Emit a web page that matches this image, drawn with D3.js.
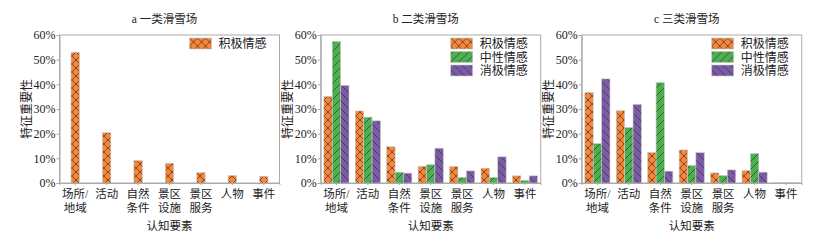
<!DOCTYPE html>
<html>
<head>
<meta charset="utf-8">
<script src="https://cdn.jsdelivr.net/npm/d3@7"></script>
<style>
  body { margin: 0; background: #fff; }
  text { font-family: "Liberation Serif", "Noto Sans CJK SC", serif; fill: #222; }
  .axis path, .axis line { stroke: #aaa; }
</style>
</head>
<body>
<div id="chart"></div>
<script>
// categories and values (feature importance, %)
var categories = ["场所/\n地域", "活动", "自然\n条件", "景区\n设施", "景区\n服务", "人物", "事件"];
var seriesNames = ["积极情感", "中性情感", "消极情感"];
var yTicks = [0, 10, 20, 30, 40, 50, 60];

var aPositive = [53.0, 20.4, 9.1, 8.0, 4.2, 3.0, 2.7];

var bPositive = [35.1, 29.2, 14.7, 6.8, 6.7, 6.0, 2.9];
var bNeutral  = [57.4, 26.7, 4.4, 7.4, 2.3, 2.3, 1.1];
var bNegative = [39.6, 25.2, 4.0, 14.1, 4.9, 10.6, 2.9];

var cPositive = [36.7, 29.3, 12.4, 13.4, 4.1, 5.0, 0.2];
var cNeutral  = [16.0, 22.5, 40.7, 7.1, 3.0, 11.9, 0.1];
var cNegative = [42.2, 31.9, 4.8, 12.3, 5.3, 4.4, 0.2];

var panels = [
  { title: "a 一类滑雪场", left: 59.5, series: [aPositive] },
  { title: "b 二类滑雪场", left: 320.7, series: [bPositive, bNeutral, bNegative] },
  { title: "c 三类滑雪场", left: 581.7, series: [cPositive, cNeutral, cNegative] }
];

var W = 826, H = 247;
var pw = 220;            // plot width
var plotTop = 35, plotBottom = 183;
var colors = ["#f5863b", "#4caf50", "#7a5ba6"];
var hatch = ["M0,0L8,8M8,0L0,8", "M-2,2L2,-2M0,8L8,0M6,10L10,6", "M0,0L8,8M-2,6L2,10M6,-2L10,2"];

var svg = d3.select("#chart").append("svg")
    .attr("width", W)
    .attr("height", H);

var defs = svg.append("defs");
colors.forEach(function(c, i) {
  var p = defs.append("pattern")
      .attr("id", "hatch" + i)
      .attr("patternUnits", "userSpaceOnUse")
      .attr("width", 8).attr("height", 8);
  p.append("rect").attr("width", 8).attr("height", 8).attr("fill", c);
  p.append("path").attr("d", hatch[i])
      .attr("stroke", "#3a2a20").attr("stroke-width", 0.7).attr("stroke-opacity", 0.9);
});

var yScale = d3.scaleLinear().domain([0, 60]).range([plotBottom, plotTop]);

panels.forEach(function(panel) {
  var x0 = panel.left, x1 = panel.left + pw;
  var g = svg.append("g");

  var xScale = d3.scaleBand()
      .domain(d3.range(categories.length))
      .range([x0, x1])
      .paddingInner(0.2)
      .paddingOuter(0.1);
  var bw = xScale.bandwidth() / 3;
  var n = panel.series.length;
  var sub = d3.scaleBand().domain(d3.range(n)).range([0, bw * n]);

  // frame
  g.append("rect")
      .attr("x", x0).attr("y", plotTop)
      .attr("width", pw).attr("height", plotBottom - plotTop)
      .attr("fill", "none").attr("stroke", "#aaa");

  // bars
  panel.series.forEach(function(vals, si) {
    g.selectAll(null)
      .data(vals)
      .enter().append("rect")
      .attr("x", function(d, i) { return xScale(i) + xScale.bandwidth() / 2 - bw * n / 2 + sub(si); })
      .attr("y", function(d) { return yScale(d); })
      .attr("width", bw)
      .attr("height", function(d) { return plotBottom - yScale(d); })
      .attr("fill", "url(#hatch" + si + ")")
      .attr("stroke", "#c8c8c8")
      .attr("stroke-width", 0.6);
  });

  // axes
  var yAxis = d3.axisLeft(yScale).tickValues(yTicks).tickSize(3).tickPadding(1)
      .tickFormat(function(d) { return d + "%"; });
  g.append("g").attr("class", "axis")
      .attr("transform", "translate(" + x0 + ",0)")
      .call(yAxis)
      .selectAll("text").attr("font-size", 12).attr("fill", "#222")
      .attr("font-family", "Liberation Serif");

  var xAxis = d3.axisBottom(xScale).tickSize(2).tickFormat("");
  g.append("g").attr("class", "axis")
      .attr("transform", "translate(0," + plotBottom + ")")
      .call(xAxis);
  g.selectAll(".axis .domain").attr("stroke", "#aaa");

  // category labels (two lines)
  categories.forEach(function(c, i) {
    var cx = xScale(i) + xScale.bandwidth() / 2;
    var t = g.append("text")
        .attr("text-anchor", "middle")
        .attr("font-size", 11.5)
        .attr("x", cx)
        .attr("y", 198);
    c.split("\n").forEach(function(line, li) {
      t.append("tspan")
        .attr("x", cx)
        .attr("dy", li === 0 ? 0 : 13.5)
        .text(line);
    });
  });

  // titles
  g.append("text")
      .attr("x", (x0 + x1) / 2 - 5).attr("y", 23)
      .attr("text-anchor", "middle").attr("font-size", 11.5)
      .text(panel.title);
  g.append("text")
      .attr("x", (x0 + x1) / 2).attr("y", 230)
      .attr("text-anchor", "middle").attr("font-size", 11.5)
      .text("认知要素");
  g.append("text")
      .attr("transform", "translate(" + (x0 - 33) + "," + ((plotTop + plotBottom) / 2) + ") rotate(-90)")
      .attr("text-anchor", "middle").attr("dy", "0.35em").attr("font-size", 12)
      .text("特征重要性");

  // legend
  var leg = g.append("g").attr("transform", "translate(" + (x1 - 90) + "," + 38 + ")");
  panel.series.forEach(function(vals, si) {
    leg.append("rect")
      .attr("x", 0).attr("y", si * 13.5)
      .attr("width", 22).attr("height", 11)
      .attr("fill", "url(#hatch" + si + ")")
      .attr("stroke", "#c8c8c8").attr("stroke-width", 0.6);
    leg.append("text")
      .attr("x", 29).attr("y", si * 13.5 + 10)
      .attr("font-size", 12)
      .text(seriesNames[si]);
  });
});
</script>
</body>
</html>
